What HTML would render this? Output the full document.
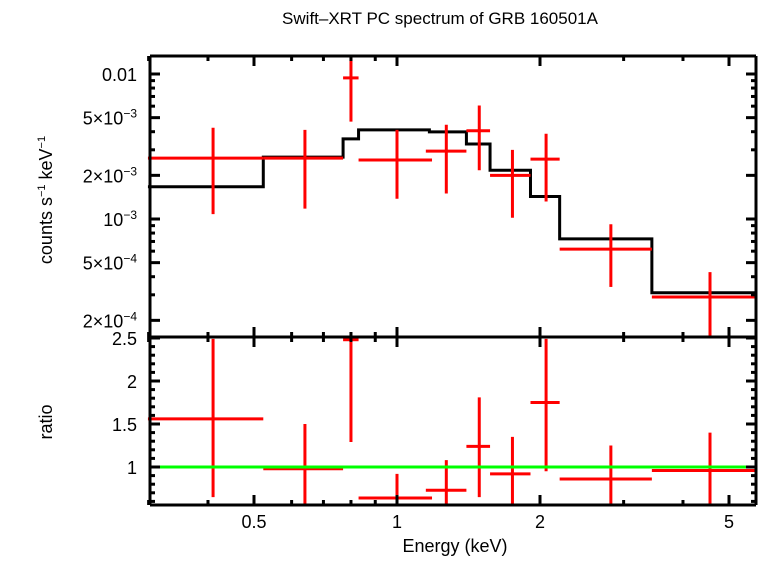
<!DOCTYPE html>
<html><head><meta charset="utf-8"><style>
body{margin:0;background:#fff;width:758px;height:556px;overflow:hidden}
svg{font-family:"Liberation Sans",sans-serif}
</style></head><body>
<svg id="c" width="758" height="556">
<text x="440" y="24" font-size="17" text-anchor="middle">Swift–XRT PC spectrum of GRB 160501A</text>
<text x="455" y="552" font-size="18" text-anchor="middle">Energy (keV)</text>
<text transform="translate(52,200) rotate(-90)" font-size="18" text-anchor="middle">counts s<tspan font-size="11" dy="-7">−1</tspan><tspan dy="7"> keV</tspan><tspan font-size="11" dy="-7">−1</tspan></text>
<text transform="translate(52,422) rotate(-90)" font-size="18" text-anchor="middle">ratio</text>
<g id="g"></g>
</svg>
<script>
const binLo=[0.299,0.523,0.77,0.83,1.17,1.40,1.57,1.91,2.2,3.44];
const binHi=[0.523,0.77,0.83,1.17,1.40,1.57,1.91,2.2,3.44,5.7];
const dataLo=[0.299,0.523,0.77,0.83,1.15,1.40,1.57,1.91,2.2,3.44];
const dataHi=[0.523,0.77,0.83,1.185,1.40,1.57,1.91,2.2,3.44,5.7];
const centers=[0.41,0.64,0.80,1.0,1.27,1.49,1.75,2.06,2.82,4.56];
const rate=[2.63e-3,2.63e-3,9.4e-3,2.55e-3,2.94e-3,4.06e-3,2.0e-3,2.59e-3,6.2e-4,2.9e-4];
const rateHi=[4.26e-3,4.12e-3,1.62e-2,4.12e-3,4.47e-3,6.07e-3,3.0e-3,3.87e-3,9.2e-4,4.3e-4];
const rateLo=[1.08e-3,1.18e-3,4.69e-3,1.38e-3,1.5e-3,2.17e-3,1.02e-3,1.32e-3,3.4e-4,1.47e-4];
const model=[1.67e-3,2.67e-3,3.57e-3,4.12e-3,3.99e-3,3.29e-3,2.17e-3,1.43e-3,7.3e-4,3.1e-4];
const ratio=[1.56,0.98,2.48,0.64,0.73,1.24,0.92,1.75,0.86,0.96];
const ratioHi=[2.49,1.5,3.2,0.92,1.08,1.81,1.35,2.49,1.25,1.4];
const ratioLo=[0.65,0.55,1.29,0.55,0.55,0.65,0.55,0.95,0.55,0.55];
const L=150,R=756,T=56,M=337,B=505;
const X=e=>397+Math.log10(e)*475;
const YT=v=>74+(-2-Math.log10(v))*145;
const YB=r=>467-(r-1)*86;
const g=document.getElementById('g');const NS='http://www.w3.org/2000/svg';
function clampT(y){return Math.max(T,Math.min(M,y));}
function clampB(y){return Math.max(M,Math.min(B,y));}
function ln(x1,y1,x2,y2,c,w,name){const l=document.createElementNS(NS,'line');
l.setAttribute('x1',x1);l.setAttribute('y1',y1);l.setAttribute('x2',x2);l.setAttribute('y2',y2);
l.setAttribute('stroke',c);l.setAttribute('stroke-width',w);


g.appendChild(l);return l;}
function tx(x,y,s,anchor,name){const t=document.createElementNS(NS,'text');
t.setAttribute('x',x);t.setAttribute('y',y);t.setAttribute('font-size','18');t.setAttribute('text-anchor',anchor);t.innerHTML=s;


g.appendChild(t);}
let d='';
for(let i=0;i<model.length;i++){const y=YT(model[i]);d+=(i?'L':'M')+X(binLo[i])+' '+y+'L'+X(binHi[i])+' '+y;}
const p=document.createElementNS(NS,'path');p.setAttribute('d',d);p.setAttribute('fill','none');p.setAttribute('stroke','#000');p.setAttribute('stroke-width','3');


g.appendChild(p);
for(let i=0;i<rate.length;i++){
ln(X(dataLo[i]),YT(rate[i]),Math.min(R,X(dataHi[i])),YT(rate[i]),'#f00',3,'data-xerr-'+i);
ln(X(centers[i]),clampT(YT(rateHi[i])),X(centers[i]),clampT(YT(rateLo[i])),'#f00',3,'data-yerr-'+i);
const yr=YB(ratio[i]);
if(yr>=M) ln(X(dataLo[i]),yr,Math.min(R,X(dataHi[i])),yr,'#f00',3,'ratio-xerr-'+i);
ln(X(centers[i]),clampB(YB(ratioHi[i])),X(centers[i]),clampB(YB(ratioLo[i])),'#f00',3,'ratio-yerr-'+i);
}
ln(L,YB(1),R,YB(1),'#0f0',3,'unity-line');
ln(L,T,R,T,'#000',3,'frame-top');ln(L,M,R,M,'#000',3,'frame-mid');ln(L,B,R,B,'#000',3,'frame-bottom');
ln(L,T,L,B,'#000',3,'frame-left');ln(R,T,R,B,'#000',3,'frame-right');
const xMaj=[0.5,1,2,5];const xMin=[0.3,0.4,0.6,0.7,0.8,0.9,3,4];
xMaj.forEach(e=>{const x=X(e);[T,M].forEach(y=>ln(x,y,x,y+10,'#000',3,'x-major-tick'));[M,B].forEach(y=>ln(x,y,x,y-10,'#000',3,'x-major-tick'));tx(x,528,String(e),'middle','x-tick-label');});
xMin.forEach(e=>{const x=X(e);[T,M].forEach(y=>ln(x,y,x,y+5,'#000',3,'x-minor-tick'));[M,B].forEach(y=>ln(x,y,x,y-5,'#000',3,'x-minor-tick'));});
const yMaj=[0.01,5e-3,2e-3,1e-3,5e-4,2e-4];
const yLab=['0.01','5×10<tspan font-size="12" dy="-7">−3</tspan>','2×10<tspan font-size="12" dy="-7">−3</tspan>','10<tspan font-size="12" dy="-7">−3</tspan>','5×10<tspan font-size="12" dy="-7">−4</tspan>','2×10<tspan font-size="12" dy="-7">−4</tspan>'];
const yMin=[9e-3,8e-3,7e-3,6e-3,4e-3,3e-3,9e-4,8e-4,7e-4,6e-4,4e-4,3e-4];
yMaj.forEach((v,i)=>{const y=YT(v);ln(L,y,L+10,y,'#000',3,'y-major-tick');ln(R,y,R-10,y,'#000',3,'y-major-tick');tx(137,y+7,yLab[i],'end','y-tick-label');});
yMin.forEach(v=>{const y=YT(v);ln(L,y,L+5,y,'#000',3,'y-minor-tick');ln(R,y,R-5,y,'#000',3,'y-minor-tick');});
const rMaj=[1,1.5,2,2.5];const rLab=['1','1.5','2','2.5'];
rMaj.forEach((r,i)=>{const y=YB(r);ln(L,y,L+10,y,'#000',3,'ratio-major-tick');ln(R,y,R-10,y,'#000',3,'ratio-major-tick');tx(137,y+7,rLab[i],'end','ratio-tick-label');});
for(let r=0.6;r<2.5;r+=0.1){if(Math.abs(r*2-Math.round(r*2))>0.01){const y=YB(r);ln(L,y,L+5,y,'#000',3,'ratio-minor-tick');ln(R,y,R-5,y,'#000',3,'ratio-minor-tick');}}
</script>
</body></html>
